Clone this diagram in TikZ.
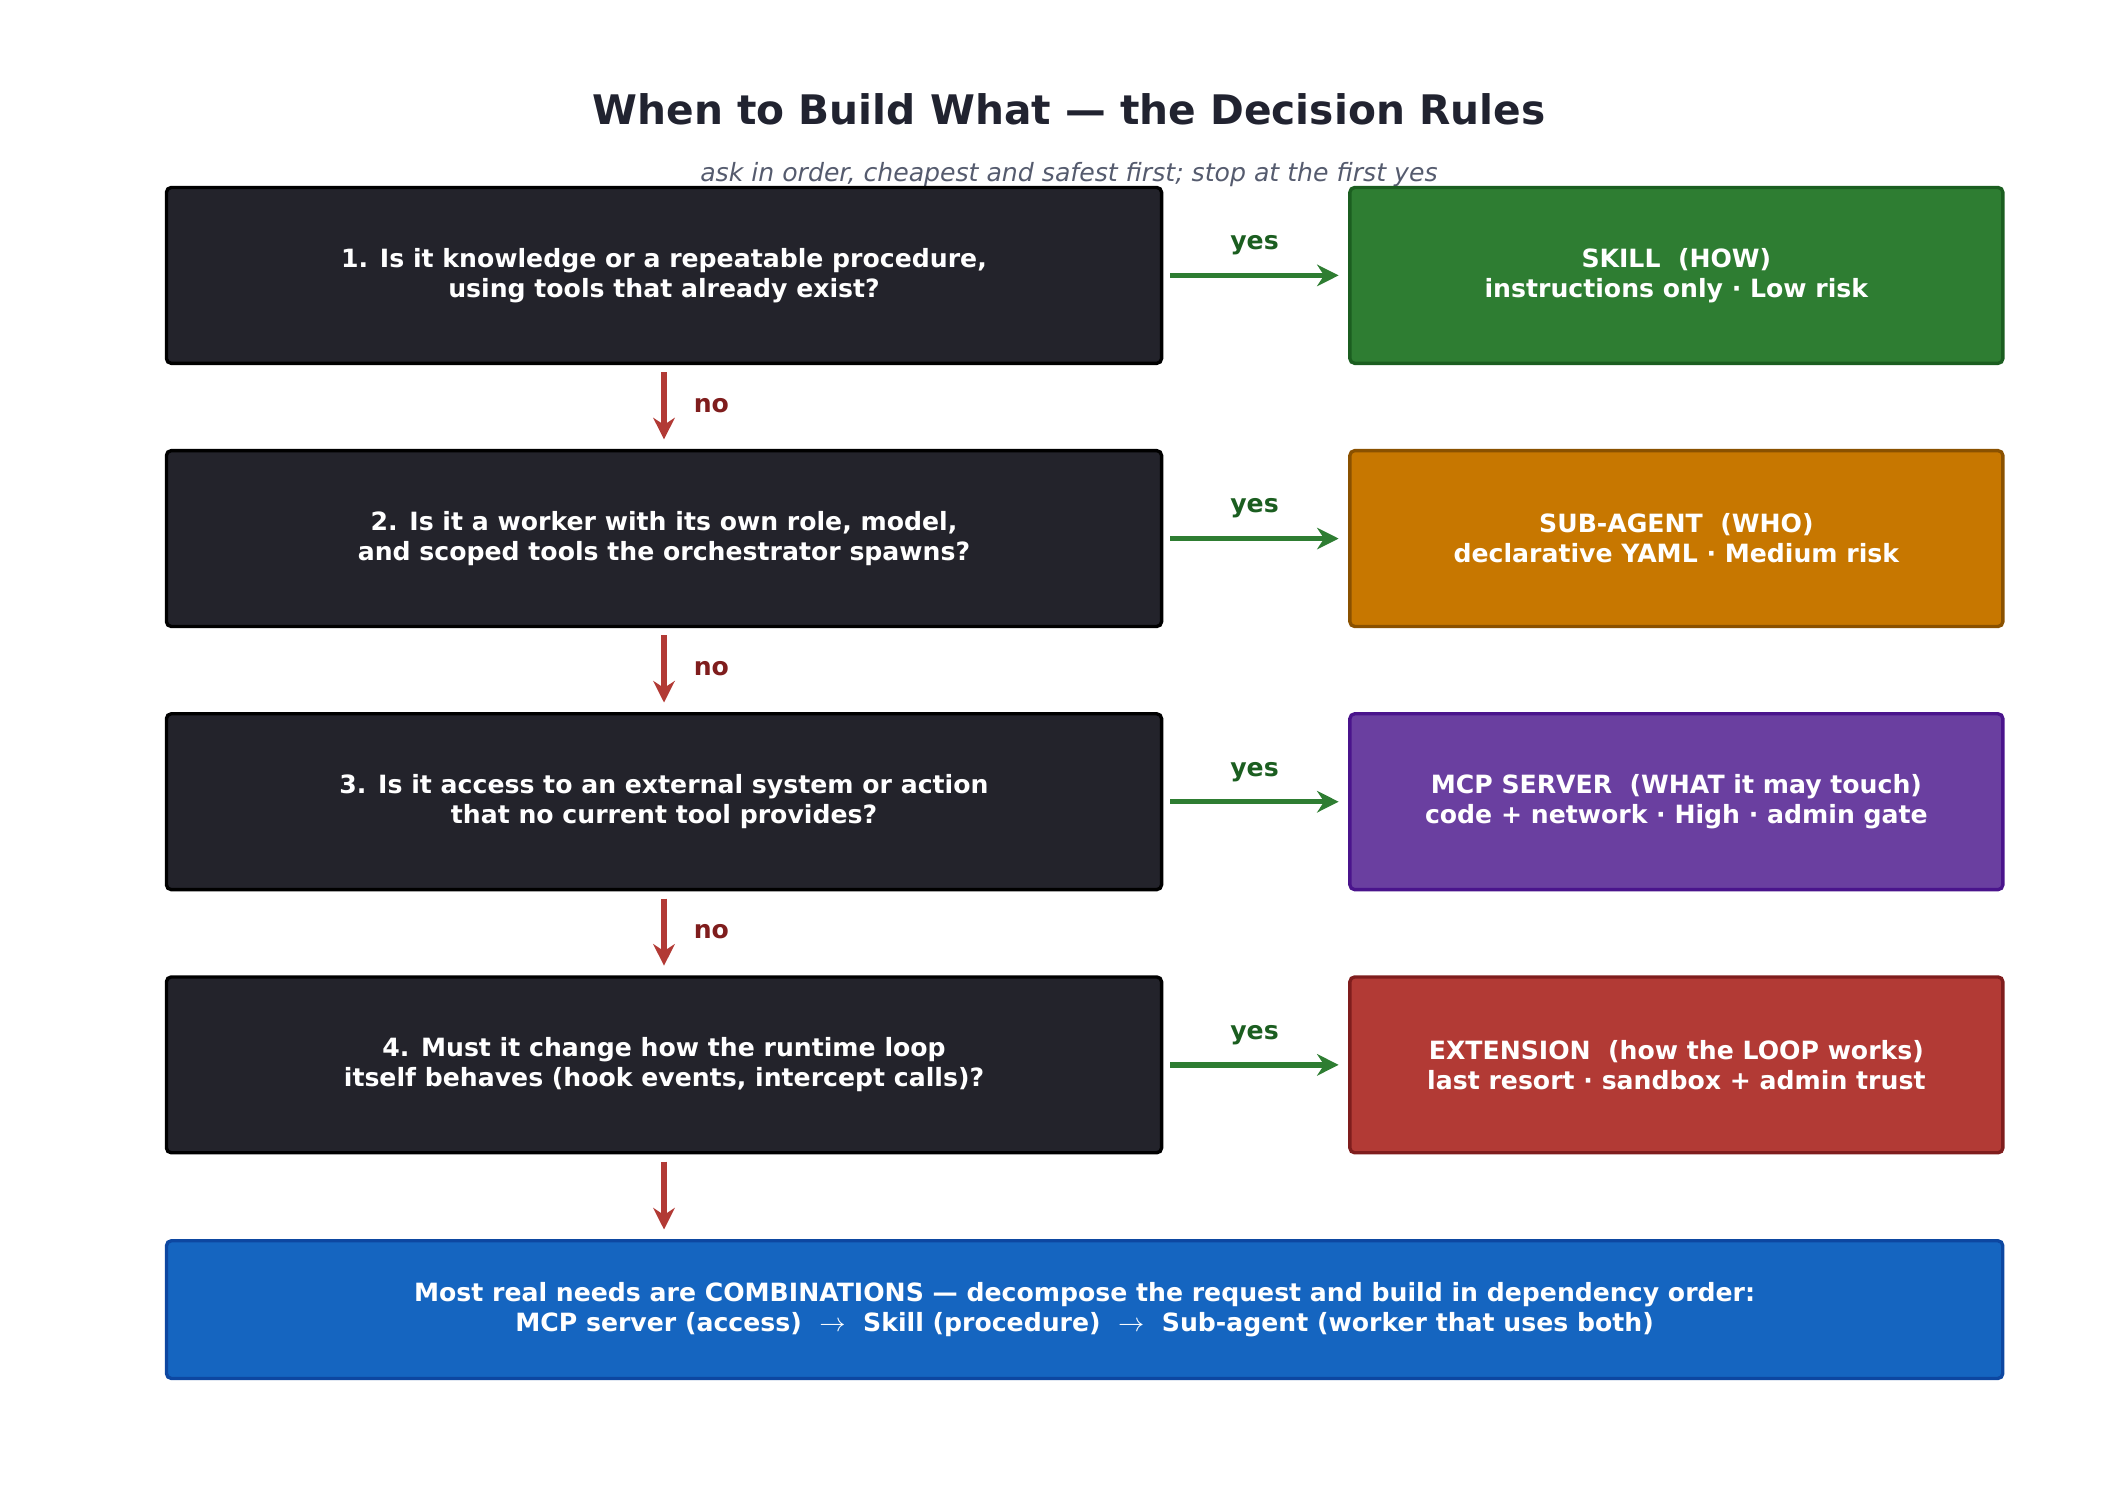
\documentclass[tikz,border=0pt]{standalone}
\usepackage{fontspec}
\setmainfont{DejaVu Sans}
\usetikzlibrary{arrows.meta}
\definecolor{qdark}{HTML}{23232B}
\definecolor{skillc}{HTML}{2E7D32}
\definecolor{skillb}{HTML}{1B5E20}
\definecolor{subc}{HTML}{C77700}
\definecolor{subb}{HTML}{8A5100}
\definecolor{mcpc}{HTML}{6A3FA0}
\definecolor{mcpb}{HTML}{4A148C}
\definecolor{extc}{HTML}{B23A35}
\definecolor{extb}{HTML}{7F1D1D}
\definecolor{sumc}{HTML}{1565C0}
\definecolor{sumb}{HTML}{0D47A1}
\definecolor{titlec}{HTML}{212330}
\definecolor{subt}{HTML}{555B6E}
\tikzset{
  box/.style={draw, line width=1.4pt, rounded corners=2pt, text=white,
    font=\fontsize{10.5}{12.5}\selectfont\bfseries, align=center, inner sep=0pt},
  question/.style={box, fill=qdark, draw=black, minimum width=14.6cm, minimum height=2.58cm},
  answer/.style={box, minimum width=9.58cm, minimum height=2.58cm},
  yesarrow/.style={-{Stealth[length=9pt,width=9pt]}, line width=2.2pt, skillc},
  noarrow/.style={-{Stealth[length=9pt,width=9pt]}, line width=2.2pt, extc},
  yeslabel/.style={text=skillb, font=\fontsize{10.5}{12}\selectfont\bfseries},
  nolabel/.style={text=extb, font=\fontsize{10.5}{12}\selectfont\bfseries}
}
\begin{document}
\begin{tikzpicture}[x=0.02cm,y=-0.02cm]
\useasboundingbox (0,0) rectangle (1560,1098);
\node[text=titlec, font=\fontsize{17}{20}\selectfont\bfseries] (title) at (784,80) {When to Build What — the Decision Rules};
\node[text=subt, font=\fontsize{10.5}{12}\selectfont\itshape] (subtitle) at (784,128) {ask in order, cheapest and safest first; stop at the first yes};
% questions
\node[question] (q1) at (487,202) {1. Is it knowledge or a repeatable procedure,\\using tools that already exist?};
\node[question] (q2) at (487,395) {2. Is it a worker with its own role, model,\\and scoped tools the orchestrator spawns?};
\node[question] (q3) at (487,588) {3. Is it access to an external system or action\\that no current tool provides?};
\node[question] (q4) at (487,781) {4. Must it change how the runtime loop\\itself behaves (hook events, intercept calls)?};
% answers
\node[answer, fill=skillc, draw=skillb] (skill) at (1229.5,202) {SKILL\ \ (HOW)\\instructions only · Low risk};
\node[answer, fill=subc, draw=subb] (subagent) at (1229.5,395) {SUB-AGENT\ \ (WHO)\\declarative YAML · Medium risk};
\node[answer, fill=mcpc, draw=mcpb] (mcp) at (1229.5,588) {MCP SERVER\ \ (WHAT it may touch)\\code + network · High · admin gate};
\node[answer, fill=extc, draw=extb] (ext) at (1229.5,781) {EXTENSION\ \ (how the LOOP works)\\last resort · sandbox + admin trust};
\node[box, fill=sumc, draw=sumb, minimum width=26.94cm, minimum height=2.02cm] (summary) at (795.5,960.5)
  {Most real needs are COMBINATIONS — decompose the request and build in dependency order:\\MCP server (access)\ \ $\rightarrow$\ \ Skill (procedure)\ \ $\rightarrow$\ \ Sub-agent (worker that uses both)};
% yes arrows
\foreach \q/\a in {q1/skill,q2/subagent,q3/mcp,q4/ext}
  \draw[yesarrow] ([xshift=3pt]\q.east) -- node[yeslabel, above=4pt] {yes} ([xshift=-4pt]\a.west);
% no arrows
\foreach \q/\r in {q1/q2,q2/q3,q3/q4}
  \draw[noarrow] ([yshift=-3pt]\q.south) -- node[nolabel, right=8pt] {no} ([yshift=4pt]\r.north);
\draw[noarrow] ([yshift=-3pt]q4.south) -- ([yshift=4pt]q4.south |- summary.north);
\end{tikzpicture}
\end{document}
